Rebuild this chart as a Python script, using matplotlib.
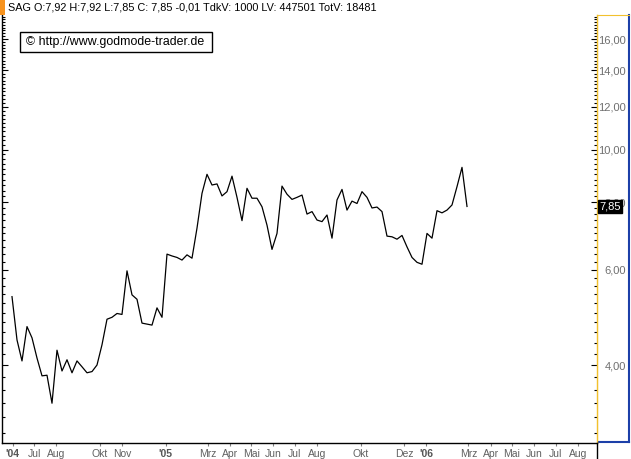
import matplotlib
matplotlib.use("Agg")
import matplotlib.pyplot as plt
from matplotlib.patches import Rectangle
from matplotlib.lines import Line2D
from matplotlib.ticker import FixedLocator, NullFormatter, FuncFormatter
import numpy as np
import pandas as pd

plt.rcParams['font.family'] = ['Liberation Sans', 'DejaVu Sans']

# weekly closes for SAG (June 2004 - Feb 2006)
start_date = "2004-05-31"
closes = [5.35, 4.45, 4.07, 4.71, 4.49, 4.12, 3.82, 3.83, 3.40, 4.26,
          3.90, 4.09, 3.87, 4.07, 3.97, 3.87, 3.89, 4.00, 4.36, 4.86,
          4.90, 4.98, 4.96, 5.97, 5.39, 5.29, 4.78, 4.76, 4.74, 5.10,
          4.90, 6.41, 6.36, 6.32, 6.25, 6.39, 6.30, 7.16, 8.30, 9.00,
          8.60, 8.64, 8.21, 8.36, 8.93, 8.16, 7.39, 8.48, 8.13, 8.13,
          7.84, 7.25, 6.54, 7.00, 8.56, 8.27, 8.09, 8.16, 8.24, 7.60,
          7.68, 7.41, 7.36, 7.57, 6.86, 8.07, 8.44, 7.73, 8.03, 7.95,
          8.36, 8.16, 7.80, 7.83, 7.68, 6.92, 6.90, 6.83, 6.94, 6.61,
          6.32, 6.19, 6.14, 7.00, 6.86, 7.71, 7.64, 7.73, 7.90, 8.54,
          9.27, 7.85]
dates = pd.date_range(start_date, periods=len(closes), freq="7D")

header = "SAG O:7,92 H:7,92 L:7,85 C: 7,85 -0,01 TdkV: 1000 LV: 447501 TotV: 18481"
copyright_text = "\u00a9 http://www.godmode-trader.de"

tick_dates = ["2004-06-01", "2004-07-01", "2004-08-01", "2004-10-01", "2004-11-01",
              "2005-01-01", "2005-03-01", "2005-04-01", "2005-05-01", "2005-06-01",
              "2005-07-01", "2005-08-01", "2005-10-01", "2005-12-01", "2006-01-01",
              "2006-03-01", "2006-04-01", "2006-05-01", "2006-06-01", "2006-07-01",
              "2006-08-01"]
tick_labels = ["'04", "Jul", "Aug", "Okt", "Nov", "'05", "Mrz", "Apr", "Mai", "Jun",
               "Jul", "Aug", "Okt", "Dez", "'06", "Mrz", "Apr", "Mai", "Jun", "Jul", "Aug"]

price_major = [4, 6, 8, 10, 12, 14, 16]
price_minor = [round(v, 1) for v in np.arange(2.8, 17.8, 0.2) if round(v, 1) not in price_major]

W, H = 631, 459
fig = plt.figure(figsize=(W / 100, H / 100), dpi=100)
fig.patch.set_facecolor("white")

ax = fig.add_axes([2 / W, 1 - 443 / H, 595 / W, 428 / H])
ax.plot(dates, closes, color="black", lw=0.9)

ax.set_yscale("log")
ax.set_ylim(2.871, 17.72)
ax.set_xlim(pd.Timestamp("2004-05-17"), pd.Timestamp("2006-08-28"))

ax.yaxis.set_major_locator(FixedLocator(price_major))
ax.yaxis.set_minor_locator(FixedLocator(price_minor))
ax.yaxis.set_major_formatter(FuncFormatter(lambda v, p: f"{v:.2f}".replace(".", ",")))
ax.yaxis.set_minor_formatter(NullFormatter())
ax.tick_params(axis="y", which="both", left=True, right=True, direction="in",
               labelleft=False, labelright=True, color="black")
ax.tick_params(axis="y", which="major", length=4.5, width=0.8, pad=21,
               labelsize=8, labelcolor="#6f6f6f")
ax.tick_params(axis="y", which="minor", length=2.5, width=0.8)
for lbl in ax.get_yticklabels():
    lbl.set_horizontalalignment("right")

ax.set_xticks(pd.to_datetime(tick_dates))
ax.set_xticks([], minor=True)
ax.set_xticklabels(tick_labels)
ax.tick_params(axis="x", direction="out", length=2, width=0.8, color="#808080",
               labelsize=7.5, labelcolor="#606060", pad=2.5)
for lbl in ax.get_xticklabels():
    if lbl.get_text().startswith("'"):
        lbl.set_fontweight("bold")
        lbl.set_color("#555555")

ax.spines["top"].set_visible(False)
ax.spines["right"].set_color("#f2c12e")
ax.spines["left"].set_color("black")
ax.spines["bottom"].set_color("black")
for s in ax.spines.values():
    s.set_linewidth(1.0)

# last price tag (sits over the 8,00 label, as in the original)
ax.annotate(f"{closes[-1]:.2f}".replace(".", ","), xy=(1.0, closes[-1]),
            xycoords=ax.get_yaxis_transform(), xytext=(1.5, 0), textcoords="offset points",
            ha="left", va="center", fontsize=8, color="white", zorder=10,
            bbox=dict(boxstyle="square,pad=0.12", fc="black", ec="black"),
            annotation_clip=False)

# right-hand price panel frame
panel = fig.add_axes([597 / W, 1 - 442 / H, 32 / W, 427 / H])
panel.set_xticks([])
panel.set_yticks([])
panel.patch.set_alpha(0)
panel.spines["top"].set_color("#f2c12e")
panel.spines["left"].set_color("#f2c12e")
panel.spines["right"].set_color("#1c3fa8")
panel.spines["bottom"].set_color("#1c3fa8")
panel.spines["right"].set_linewidth(1.5)
panel.spines["bottom"].set_linewidth(1.5)
panel.set_zorder(-1)

# bottom separator under the price panel
fig.add_artist(Line2D([597 / W, 597 / W], [0, 1 - 443 / H], color="black", lw=1.0))

# header line and marker
fig.add_artist(Rectangle((0, 1 - 15 / H), 5 / W, 15 / H, color="#f7931e", lw=0))
fig.text(8 / W, 1 - 8 / H, header, fontsize=7.8, va="center", ha="left", color="black")

# copyright box
fig.add_artist(Rectangle((20 / W, 1 - 52 / H), 192 / W, 20 / H, fill=False,
                         ec="black", lw=1.0))
fig.text(26 / W, 1 - 42 / H, copyright_text, fontsize=8.9, va="center", ha="left",
         color="black")

fig.savefig("out.png", dpi=100)
